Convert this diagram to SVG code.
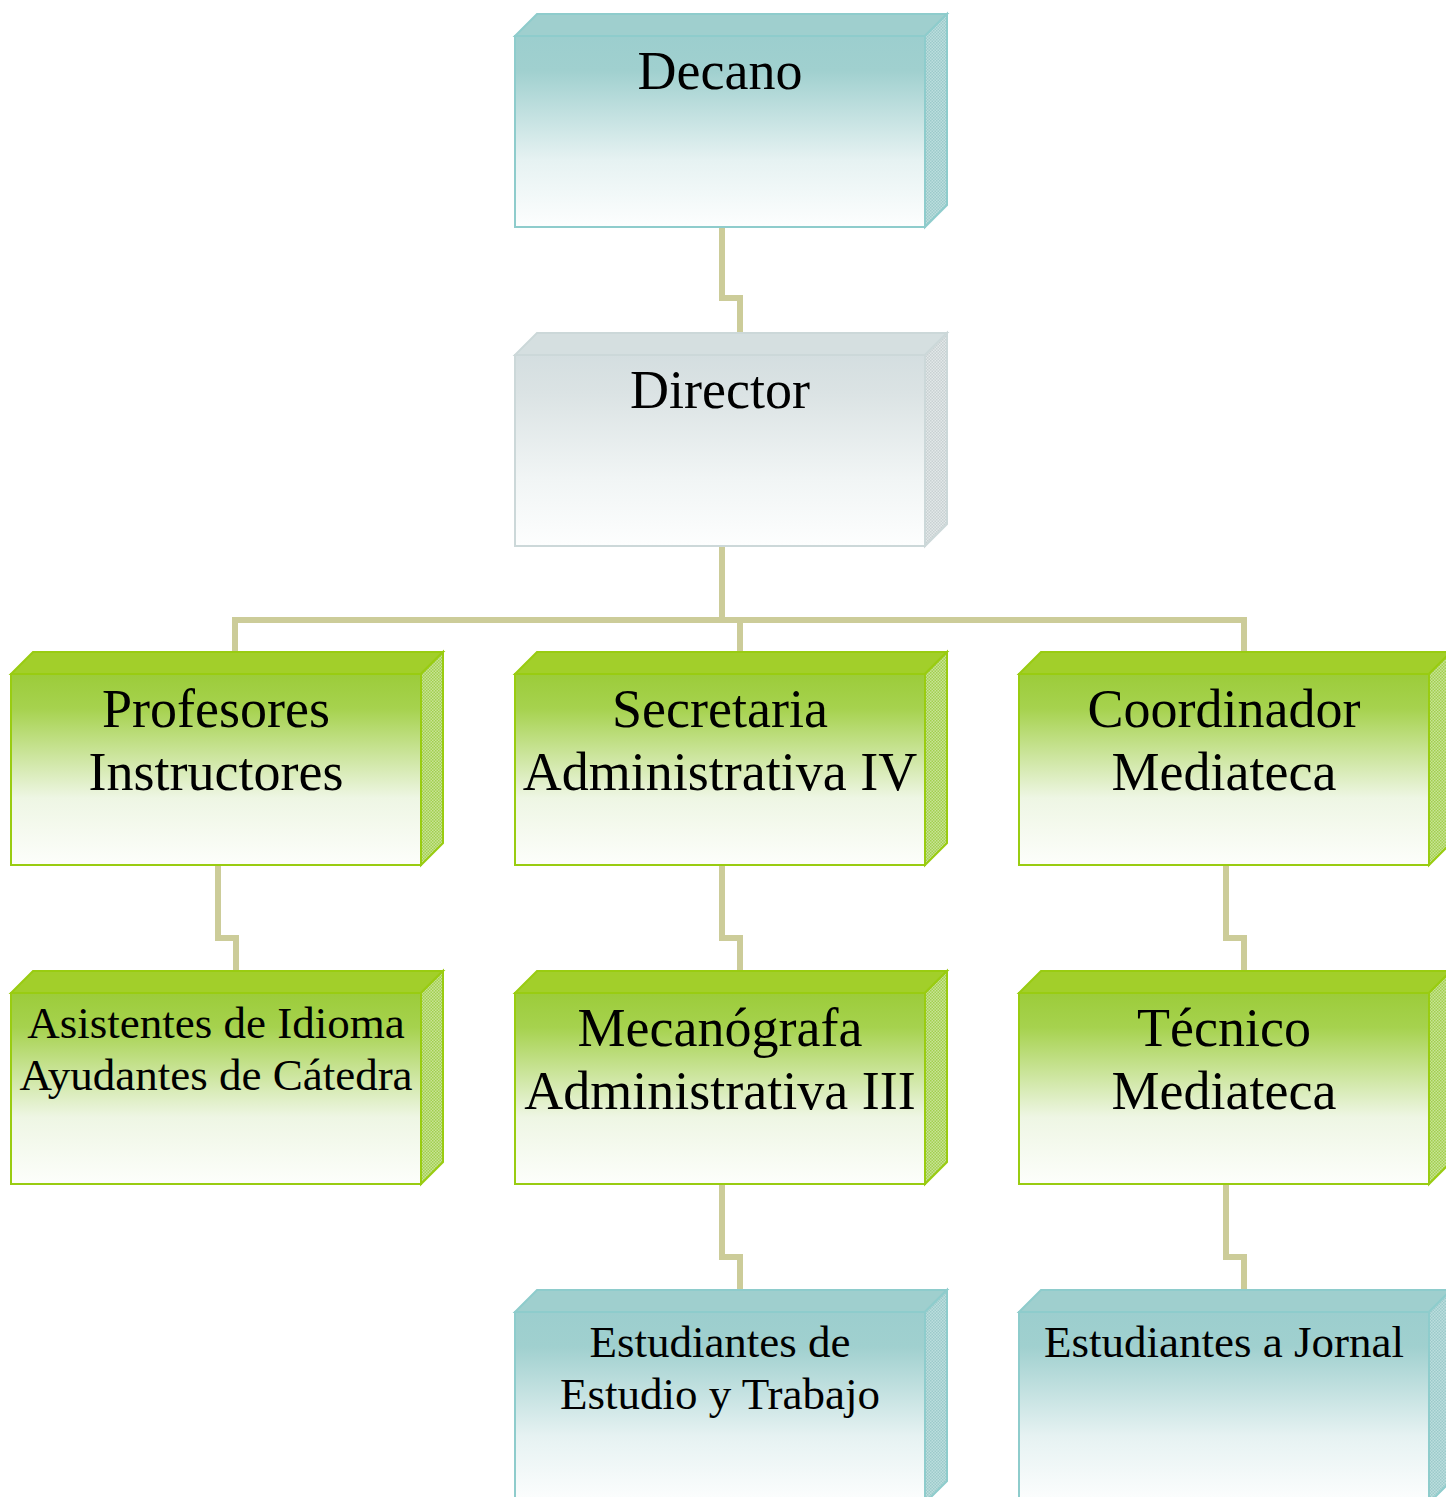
<svg xmlns="http://www.w3.org/2000/svg" width="1446" height="1497" viewBox="0 0 1446 1497">
<defs>
<linearGradient id="gTeal" x1="0" y1="0" x2="0" y2="1">
<stop offset="0" stop-color="#9ccece"/><stop offset="0.18" stop-color="#a0d0cf"/><stop offset="0.65" stop-color="#e6f2f2"/><stop offset="1" stop-color="#fdfefe"/>
</linearGradient>
<linearGradient id="gGreen" x1="0" y1="0" x2="0" y2="1">
<stop offset="0" stop-color="#9ccc3a"/><stop offset="0.18" stop-color="#a6d24e"/><stop offset="0.65" stop-color="#eef6e4"/><stop offset="1" stop-color="#fdfefb"/>
</linearGradient>
<linearGradient id="gGray" x1="0" y1="0" x2="0" y2="1">
<stop offset="0" stop-color="#d4dee0"/><stop offset="0.2" stop-color="#dbe3e4"/><stop offset="0.65" stop-color="#f1f5f5"/><stop offset="1" stop-color="#fdfefe"/>
</linearGradient>
<pattern id="pTeal" width="3" height="3" patternUnits="userSpaceOnUse">
<rect width="3" height="3" fill="#bcdede"/><rect width="1.5" height="1.5" fill="#9ccaca"/><rect x="1.5" y="1.5" width="1.5" height="1.5" fill="#9ccaca"/>
</pattern>
<pattern id="pGreen" width="3" height="3" patternUnits="userSpaceOnUse">
<rect width="3" height="3" fill="#c8e496"/><rect width="1.5" height="1.5" fill="#a2cf4e"/><rect x="1.5" y="1.5" width="1.5" height="1.5" fill="#a2cf4e"/>
</pattern>
<pattern id="pGray" width="3" height="3" patternUnits="userSpaceOnUse">
<rect width="3" height="3" fill="#e2e8e9"/><rect width="1.5" height="1.5" fill="#c8d1d2"/><rect x="1.5" y="1.5" width="1.5" height="1.5" fill="#c8d1d2"/>
</pattern>
</defs>
<style>
.t{font-family:"Liberation Serif","Times New Roman",serif;fill:#000;text-anchor:middle}
.big{font-size:54px}
.sm{font-size:45px}
.teal .front{fill:url(#gTeal);stroke:#8ecccc;stroke-width:2}
.teal .top{fill:#9fcfce;stroke:#8ecccc;stroke-width:2}
.teal .side{fill:url(#pTeal);stroke:#8ecccc;stroke-width:2}
.green .front{fill:url(#gGreen);stroke:#99cc11;stroke-width:2}
.green .top{fill:#a2cf2a;stroke:#99cc11;stroke-width:2}
.green .side{fill:url(#pGreen);stroke:#99cc11;stroke-width:2}
.gray .front{fill:url(#gGray);stroke:#ccd8d9;stroke-width:2}
.gray .top{fill:#d5dfe0;stroke:#ccd8d9;stroke-width:2}
.gray .side{fill:url(#pGray);stroke:#ccd8d9;stroke-width:2}
.conn{fill:none;stroke:#cccc99;stroke-width:6}
</style>
<g id="connectors">
<path class="conn" d="M722 228V298H740V333"/>
<path class="conn" d="M722 547V620"/>
<path class="conn" d="M235 652V620H1244V652M740 620V652"/>
<path class="conn" d="M218 866V938H236V971"/>
<path class="conn" d="M722 866V938H740V971"/>
<path class="conn" d="M1226 866V938H1244V971"/>
<path class="conn" d="M722 1185V1257H740V1290"/>
<path class="conn" d="M1226 1185V1257H1244V1290"/>
</g>
<g id="decano" class="teal">
<polygon class="top" points="515,36 537,14 947,14 925,36"/>
<polygon class="side" points="925,36 947,14 947,205 925,227"/>
<rect class="front" x="515" y="36" width="410" height="191"/>
<text class="t big" x="720" y="89">Decano</text>
</g>
<g id="director" class="gray">
<polygon class="top" points="515,355 537,333 947,333 925,355"/>
<polygon class="side" points="925,355 947,333 947,524 925,546"/>
<rect class="front" x="515" y="355" width="410" height="191"/>
<text class="t big" x="720" y="408">Director</text>
</g>
<g id="profesores" class="green">
<polygon class="top" points="11,674 33,652 443,652 421,674"/>
<polygon class="side" points="421,674 443,652 443,843 421,865"/>
<rect class="front" x="11" y="674" width="410" height="191"/>
<text class="t big" x="216" y="727">Profesores</text>
<text class="t big" x="216" y="790">Instructores</text>
</g>
<g id="secretaria" class="green">
<polygon class="top" points="515,674 537,652 947,652 925,674"/>
<polygon class="side" points="925,674 947,652 947,843 925,865"/>
<rect class="front" x="515" y="674" width="410" height="191"/>
<text class="t big" x="720" y="727">Secretaria</text>
<text class="t big" x="720" y="790">Administrativa IV</text>
</g>
<g id="coordinador" class="green">
<polygon class="top" points="1019,674 1041,652 1451,652 1429,674"/>
<polygon class="side" points="1429,674 1451,652 1451,843 1429,865"/>
<rect class="front" x="1019" y="674" width="410" height="191"/>
<text class="t big" x="1224" y="727">Coordinador</text>
<text class="t big" x="1224" y="790">Mediateca</text>
</g>
<g id="asistentes" class="green">
<polygon class="top" points="11,993 33,971 443,971 421,993"/>
<polygon class="side" points="421,993 443,971 443,1162 421,1184"/>
<rect class="front" x="11" y="993" width="410" height="191"/>
<text class="t sm" x="216" y="1038">Asistentes de Idioma</text>
<text class="t sm" x="216" y="1090">Ayudantes de Cátedra</text>
</g>
<g id="mecanografa" class="green">
<polygon class="top" points="515,993 537,971 947,971 925,993"/>
<polygon class="side" points="925,993 947,971 947,1162 925,1184"/>
<rect class="front" x="515" y="993" width="410" height="191"/>
<text class="t big" x="720" y="1046">Mecanógrafa</text>
<text class="t big" x="720" y="1109">Administrativa III</text>
</g>
<g id="tecnico" class="green">
<polygon class="top" points="1019,993 1041,971 1451,971 1429,993"/>
<polygon class="side" points="1429,993 1451,971 1451,1162 1429,1184"/>
<rect class="front" x="1019" y="993" width="410" height="191"/>
<text class="t big" x="1224" y="1046">Técnico</text>
<text class="t big" x="1224" y="1109">Mediateca</text>
</g>
<g id="estudiantes-trabajo" class="teal">
<polygon class="top" points="515,1312 537,1290 947,1290 925,1312"/>
<polygon class="side" points="925,1312 947,1290 947,1481 925,1503"/>
<rect class="front" x="515" y="1312" width="410" height="191"/>
<text class="t sm" x="720" y="1357">Estudiantes de</text>
<text class="t sm" x="720" y="1409">Estudio y Trabajo</text>
</g>
<g id="estudiantes-jornal" class="teal">
<polygon class="top" points="1019,1312 1041,1290 1451,1290 1429,1312"/>
<polygon class="side" points="1429,1312 1451,1290 1451,1481 1429,1503"/>
<rect class="front" x="1019" y="1312" width="410" height="191"/>
<text class="t sm" x="1224" y="1357">Estudiantes a Jornal</text>
</g>
</svg>
